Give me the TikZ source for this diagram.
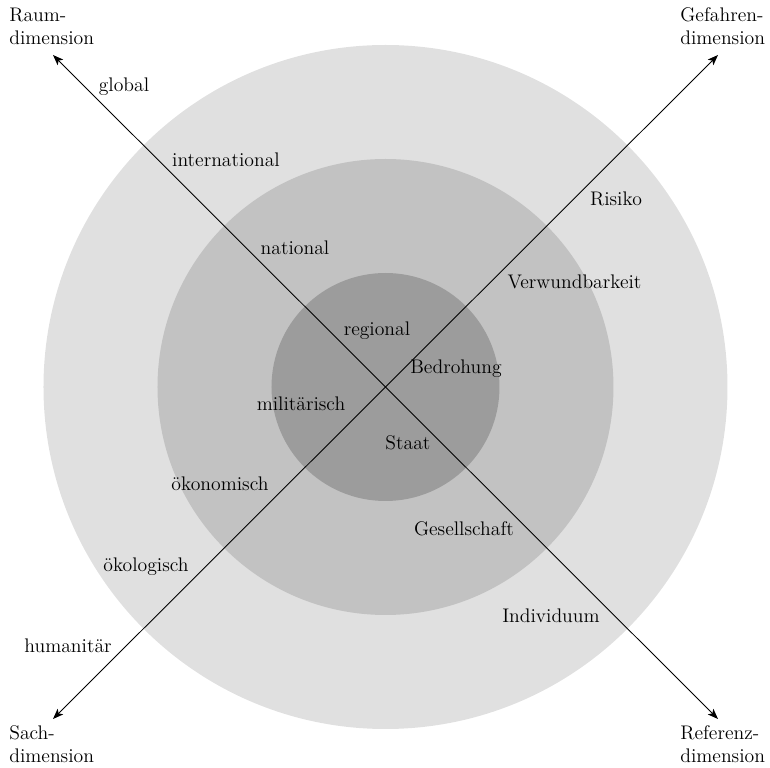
\documentclass[tikz,border=0pt]{standalone}
\usepackage{tikz}
\usetikzlibrary{arrows.meta}
\definecolor{RingOuter}{HTML}{E0E0E0}
\definecolor{RingMid}{HTML}{C2C2C2}
\definecolor{RingInner}{HTML}{9C9C9C}

\begin{document}
\begin{tikzpicture}[
        ring/.style={draw=none},
        axis/.style={line width=0.5pt,{Stealth[length=6pt,width=4.5pt,inset=1.5pt]}-{Stealth[length=6pt,width=4.5pt,inset=1.5pt]}},
        lbl/.style={anchor=base,inner sep=0pt,font=\fontsize{11.2}{13.6}\selectfont},
        dim/.style={anchor=base west,inner sep=0pt,align=left,font=\fontsize{11.2}{13.6}\selectfont}]
        \useasboundingbox (-7.71,-7.62) rectangle (7.69,7.74);
        \fill[ring,RingOuter] (0,0) circle (6.84);
        \fill[ring,RingMid] (0,0) circle (4.56);
        \fill[ring,RingInner] (0,0) circle (2.28);
        \coordinate (raum) at (-6.65,6.64);
        \coordinate (gefahr) at (6.65,6.64);
        \coordinate (sach) at (-6.65,-6.64);
        \coordinate (referenz) at (6.65,-6.64);
        \draw[axis] (raum) -- (referenz);
        \draw[axis] (sach) -- (gefahr);
        % Achsenbeschriftungen (base = letzte Zeile)
        \node[dim] (raumlbl) at (-7.53,6.84) {Raum-\\dimension};
        \node[dim] (gefahrlbl) at (5.89,6.84) {Gefahren-\\dimension};
        \node[dim] (sachlbl) at (-7.53,-7.52) {Sach-\\dimension};
        \node[dim] (referenzlbl) at (5.89,-7.52) {Referenz-\\dimension};
        % Raumdimension
        \node[lbl] (global) at (-5.23,5.90) {global};
        \node[lbl] (international) at (-3.19,4.40) {international};
        \node[lbl] (national) at (-1.81,2.64) {national};
        \node[lbl] (regional) at (-0.17,1.02) {regional};
        % Gefahrendimension
        \node[lbl] (risiko) at (4.61,3.62) {Risiko};
        \node[lbl] (verwund) at (3.78,1.96) {Verwundbarkeit};
        \node[lbl] (bedrohung) at (1.41,0.26) {Bedrohung};
        % Sachdimension
        \node[lbl] (militaer) at (-1.69,-0.47) {militärisch};
        \node[lbl] (oekonom) at (-3.31,-2.08) {ökonomisch};
        \node[lbl] (oekolog) at (-4.79,-3.70) {ökologisch};
        \node[lbl] (human) at (-6.35,-5.32) {humanitär};
        % Referenzdimension
        \node[lbl] (staat) at (0.45,-1.26) {Staat};
        \node[lbl] (gesell) at (1.57,-2.98) {Gesellschaft};
        \node[lbl] (indiv) at (3.31,-4.72) {Individuum};
      \end{tikzpicture}
\end{document}
